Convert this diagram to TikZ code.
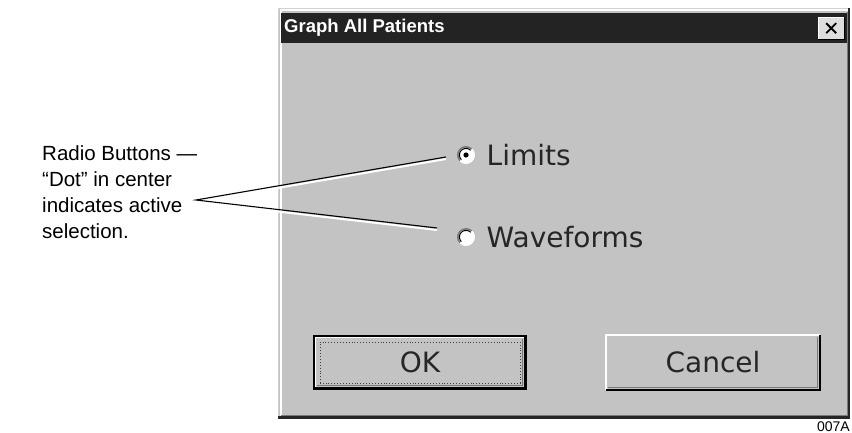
\documentclass[tikz,border=0pt]{standalone}
\usepackage{fontspec}
\setmainfont{Liberation Sans}
\newfontfamily\guifont{DejaVu Sans}
\usetikzlibrary{positioning}
\definecolor{face}{HTML}{C3C3C3}
\definecolor{titlebar}{HTML}{232323}
\definecolor{darkedge}{HTML}{7A7A7A}

\begin{document}
\begin{tikzpicture}[x=1pt, y=-1pt,
    guitext/.style={font=\guifont\fontsize{28}{32}\selectfont, text=black!85, inner sep=0pt},
    radio/.style={circle, fill=white, inner sep=0pt, outer sep=0pt, minimum size=15pt},
    button/.style={rectangle, fill=face, inner sep=0pt, outer sep=0pt, minimum width=212pt, minimum height=53pt, guitext},
    leader/.style={line width=1.1pt},
    glint/.style={white, line width=2pt}]
\useasboundingbox (0,0) rectangle (852,433);
\fill[white] (0,0) rectangle (852,433);

% dialog window and its frame
\node[fill=face, inner sep=0pt, minimum width=572pt, minimum height=411pt] (dialog) at (564,213.5) {};
\draw[black!18] (278.5,419) -- (278.5,8.5) -- (850,8.5);
\draw[white, line width=2pt] (280.5,416) -- (280.5,10.5) -- (848,10.5);
\draw[black!85, line width=2.5pt] (278,417.5) -- (849,417.5) -- (849,8);
\draw[darkedge] (281,415) -- (847,415) -- (847,12);

% title bar
\node[fill=titlebar, inner sep=0pt, minimum width=566pt, minimum height=30pt, anchor=north west] (bar) at (281,13) {};
\node[right=3pt of bar.west, inner sep=0pt, text=white, font=\bfseries\fontsize{18.5}{18.5}\selectfont] (title) {Graph All Patients};
\node[left=3pt of bar.east, fill=black!13, inner sep=0pt, minimum width=26pt, minimum height=22pt] (closebtn) {};
\draw[white] (closebtn.south west) |- (closebtn.north east);
\draw[black, line width=1.2pt] (closebtn.south west) -| (closebtn.north east);
\draw[line width=1.8pt] ([shift={(-5pt,-5pt)}]closebtn.center) -- ([shift={(5pt,5pt)}]closebtn.center);
\draw[line width=1.8pt] ([shift={(-5pt,5pt)}]closebtn.center) -- ([shift={(5pt,-5pt)}]closebtn.center);

% radio buttons
\node[radio] (limradio) at (466,155) {};
\node[radio] (waveradio) at (466,237) {};
\foreach \r in {limradio,waveradio} {
  \draw[darkedge, line width=1.6pt] (\r.center) ++(45:8.2pt) arc[start angle=45, end angle=225, radius=8.2pt];
  \draw[white, line width=1.6pt] (\r.center) ++(45:8.2pt) arc[start angle=45, end angle=-135, radius=8.2pt];
  \draw[black, line width=1pt] (\r.center) ++(45:6.6pt) arc[start angle=45, end angle=225, radius=6.6pt];
}
\fill (limradio.center) circle[radius=2.6pt];
\node[guitext, right=13pt of limradio] (limtext) {Limits};
\node[guitext, right=13pt of waveradio] (wavetext) {Waveforms};

% OK (default) and Cancel buttons
\node[button] (okbtn) at (420,362.5) {OK};
\draw[black, line width=1.2pt] (okbtn.south west) rectangle (okbtn.north east);
\draw[white, line width=1.2pt] ([shift={(1.8pt,1.8pt)}]okbtn.south west) |- ([shift={(-1.8pt,-1.8pt)}]okbtn.north east);
\draw[black, line width=1.5pt] ([shift={(1pt,1.5pt)}]okbtn.south west) -| ([shift={(-1.5pt,-1pt)}]okbtn.north east);
\draw[darkedge, line width=1.2pt] ([shift={(2.5pt,3.2pt)}]okbtn.south west) -| ([shift={(-3.2pt,-2.5pt)}]okbtn.north east);
\draw[black!75, dotted, line width=0.9pt] ([shift={(6pt,6pt)}]okbtn.south west) rectangle ([shift={(-6pt,-6pt)}]okbtn.north east);

\node[button, minimum width=214pt, minimum height=55pt] (cancelbtn) at (713,362.5) {Cancel};
\draw[white, line width=1.5pt] (cancelbtn.south west) |- (cancelbtn.north east);
\draw[black, line width=2pt] (cancelbtn.south west) -| (cancelbtn.north east);
\draw[darkedge, line width=1.2pt] ([shift={(1.5pt,2.5pt)}]cancelbtn.south west) -| ([shift={(-2.5pt,-1.5pt)}]cancelbtn.north east);

% callout
\node[anchor=north west, align=left, inner sep=0pt, font=\fontsize{20.5}{26}\selectfont] (note) at (42,145)
  {Radio Buttons —\\“Dot” in center\\indicates active\\selection.};
\coordinate (apex) at (196,200);
\coordinate (limtip) at (446,157);
\coordinate (wavetip) at (437,228);
\draw[glint] ([yshift=-2pt]apex) -- ([yshift=-2pt]limtip);
\draw[glint] ([yshift=-2pt]apex) -- ([yshift=-2pt]wavetip);
\draw[leader] (limtip) -- (apex) -- (wavetip);

\node[anchor=base east, inner sep=0pt, font=\fontsize{14}{14}\selectfont] (figid) at (850,431) {007A};
\end{tikzpicture}
\end{document}
